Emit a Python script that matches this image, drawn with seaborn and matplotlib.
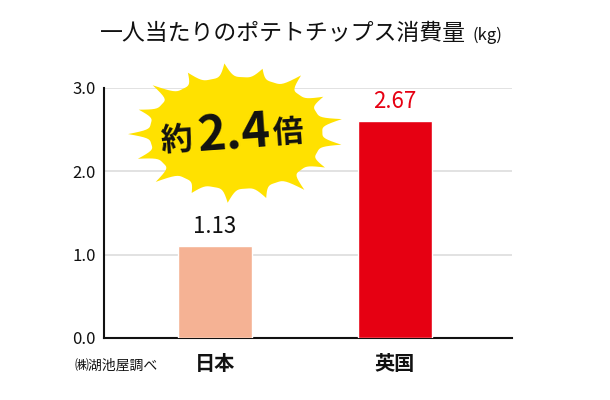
import numpy as np
import pandas as pd
import matplotlib
matplotlib.use("Agg")
import matplotlib.pyplot as plt
from matplotlib.patches import Polygon
import seaborn as sns

categories = ["日本", "英国"]
bar_values = [1.1, 2.6]
value_labels = ["1.13", "2.67"]
yticks = [0.0, 1.0, 2.0, 3.0]
title = "一人当たりのポテトチップス消費量"
unit = "(kg)"
source = "㈱湖池屋調べ"
callout = ["約", "2.4", "倍"]

bar_colors = ["#F5B294", "#E60012"]
label_colors = ["#111111", "#E60012"]

sns.set_theme(style="white")
plt.rcParams['font.family'] = ['Noto Sans CJK JP', 'DejaVu Sans']

W, H = 610, 400
fig = plt.figure(figsize=(W / 100, H / 100), dpi=100)
ax = fig.add_axes([104 / W, 1 - 338 / H, (512 - 104) / W, (338 - 88) / H])

df = pd.DataFrame({"cat": categories, "val": bar_values})
sns.barplot(data=df, x="cat", y="val", hue="cat", palette=bar_colors,
            width=0.41, legend=False, ax=ax, saturation=1, zorder=3)

ax.set_xlim(-0.617, 1.65)
ax.set_ylim(0, 3.0)
ax.set_yticks(yticks)
ax.set_yticklabels([f"{v:.1f}" for v in yticks], fontsize=12, color="#111111")
ax.yaxis.grid(True, color="#DDDDDD", lw=1.2, zorder=0)
ax.set_axisbelow(True)
ax.tick_params(axis="both", length=0, pad=6)
ax.set_xticks([0, 1])
ax.set_xticklabels(categories, fontsize=14.5, fontweight="bold", color="#111111")
ax.tick_params(axis="x", pad=11)
ax.set_xlabel("")
ax.set_ylabel("")
for s in ["top", "right"]:
    ax.spines[s].set_visible(False)
for s in ["left", "bottom"]:
    ax.spines[s].set_color("#111111")
    ax.spines[s].set_linewidth(1.5)

for i, (v, lab) in enumerate(zip(bar_values, value_labels)):
    ax.annotate(lab, (i, v), xytext=(0, 6), textcoords="offset points",
                ha="center", va="bottom", fontsize=16, color=label_colors[i])

# title
fig.text(100 / W, 1 - 33 / H, title, ha="left", va="center", fontsize=16.5, color="#111111")
fig.text(472 / W, 1 - 35 / H, unit, ha="left", va="center", fontsize=12, color="#111111")

# source
fig.text(75 / W, 1 - 366 / H, source, ha="left", va="center", fontsize=10, color="#111111")

# starburst
cx, cy = 236, 133
sx, sy = 108, 70
n = 17
rng_len = [1.0, 0.96, 1.02, 0.95, 1.0, 0.97, 1.03, 0.96, 1.0, 0.98, 1.02, 0.95, 1.0, 0.97, 1.03, 0.96, 0.99]
pts = []
for k in range(n):
    for t in np.linspace(0, 1, 20, endpoint=False):
        th = 2 * np.pi * (k + t) / n + 0.2
        rout = rng_len[k] * (1 - t) + rng_len[(k + 1) % n] * t
        r = 0.80 + (rout - 0.80) * (1 - np.sin(np.pi * t)) ** 2
        px = cx + sx * r * np.cos(th)
        py = cy - sy * r * np.sin(th)
        pts.append((px / W, 1 - py / H))
star = Polygon(pts, closed=True, transform=fig.transFigure, facecolor="#FFE100",
               edgecolor="none", zorder=5)
fig.add_artist(star)

fig.text(177 / W, 1 - 141 / H, callout[0], ha="center", va="center", fontsize=23,
         fontweight="bold", color="#111111", rotation=4, zorder=6)
fig.text(234 / W, 1 - 134 / H, callout[1], ha="center", va="center", fontsize=35,
         fontweight="bold", color="#111111", rotation=4, zorder=6)
fig.text(288 / W, 1 - 133 / H, callout[2], ha="center", va="center", fontsize=22,
         fontweight="bold", color="#111111", rotation=4, zorder=6)

fig.savefig("out.png", dpi=100)
